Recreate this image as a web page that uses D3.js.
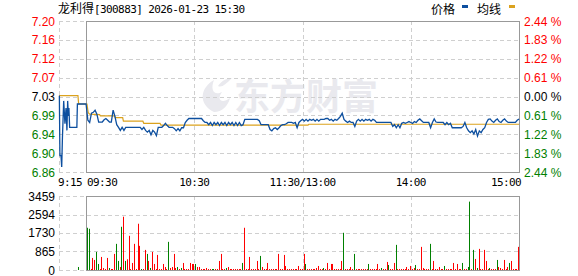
<!DOCTYPE html>
<html>
<head>
<meta charset="utf-8">
<script src="https://cdn.jsdelivr.net/npm/d3@7/dist/d3.min.js"></script>
<style>
  body { margin: 0; background: #fff; }
  svg { display: block; }
  text { font-family: "Liberation Sans", Arial, sans-serif; font-size: 12px; }
  .mono { font-family: "DejaVu Sans Mono", monospace; font-size: 11px; letter-spacing: -0.6px; }
  .cjk { font-family: "Noto Sans CJK SC", sans-serif; font-size: 12px; }
</style>
</head>
<body>
<script>
var stockName = '龙利得'
var stockInfo = '[300883] 2026-01-23 15:30'
var legendNames = ['价格', '均线']
var watermark = '东方财富'

var prevClose = 7.03
var pctTicks = [2.44, 1.83, 1.22, 0.61, 0, -0.61, -1.22, -1.83, -2.44]
var priceLabels = ['7.20', '7.16', '7.12', '7.07', '7.03', '6.99', '6.94', '6.90', '6.86']
var pctLabels = ['2.44 %', '1.83 %', '1.22 %', '0.61 %', '0.00 %', '0.61 %', '1.22 %', '1.83 %', '2.44 %']

// minutes after 9:15 (9:15-11:30 then 13:00-15:00, lunch removed)
var timeTicks = [0, 15, 75, 135, 195, 255]
var timeLabels = ['9:15', '09:30', '10:30', '11:30/13:00', '14:00', '15:00']

// call auction 9:15-9:25, [minute after 9:15, price]
var preAuction = [[0.2, 7.032], [0.5, 6.896], [1.1, 6.896], [1.5, 6.870], [1.9, 6.936], [2.6, 7.020],
  [3.3, 6.968], [3.9, 7.004], [4.4, 6.953], [4.8, 7.020], [5.2, 6.986], [5.5, 7.004], [5.9, 6.960],
  [9.9, 6.960], [10.2, 7.013]]

// one close per minute from 9:30
var price = [
  7.013, 6.976, 6.971, 6.992, 6.994, 6.999, 6.990, 6.972, 6.972, 6.972,
  6.977, 6.980, 6.976, 6.972, 6.972, 6.999, 6.985, 6.966, 6.960, 6.953,
  6.960, 6.953, 6.960, 6.960, 6.960, 6.960, 6.960, 6.960, 6.960, 6.960,
  6.960, 6.955, 6.960, 6.953, 6.949, 6.953, 6.943, 6.953, 6.949, 6.941,
  6.960, 6.960, 6.960, 6.964, 6.969, 6.964, 6.960, 6.960, 6.960, 6.957,
  6.952, 6.957, 6.952, 6.959, 6.959, 6.971, 6.976, 6.980, 6.980, 6.980,
  6.980, 6.980, 6.980, 6.980, 6.980, 6.975, 6.971, 6.971, 6.966, 6.971,
  6.964, 6.971, 6.966, 6.971, 6.964, 6.971, 6.966, 6.971, 6.964, 6.971,
  6.966, 6.971, 6.964, 6.971, 6.964, 6.971, 6.964, 6.966, 6.978, 6.978,
  6.978, 6.978, 6.978, 6.978, 6.978, 6.978, 6.975, 6.966, 6.966, 6.966,
  6.966, 6.966, 6.955, 6.952, 6.957, 6.959, 6.955, 6.959, 6.964, 6.966,
  6.966, 6.968, 6.971, 6.971, 6.971, 6.969, 6.971, 6.959, 6.971, 6.975,
  6.978, 6.974, 6.978, 6.974, 6.978, 6.976, 6.978, 6.974, 6.978, 6.974,
  6.978, 6.978, 6.978, 6.980, 6.980, 6.976, 6.978, 6.974, 6.978, 6.976,
  6.980, 6.985, 6.992, 6.978, 6.974, 6.971, 6.974, 6.971, 6.971, 6.962,
  6.974, 6.978, 6.974, 6.978, 6.974, 6.978, 6.976, 6.978, 6.974, 6.978,
  6.976, 6.971, 6.971, 6.971, 6.971, 6.971, 6.971, 6.971, 6.971, 6.971,
  6.962, 6.966, 6.959, 6.966, 6.959, 6.969, 6.971, 6.969, 6.971, 6.973,
  6.971, 6.969, 6.973, 6.971, 6.976, 6.979, 6.975, 6.971, 6.971, 6.971,
  6.971, 6.959, 6.971, 6.979, 6.972, 6.971, 6.971, 6.971, 6.971, 6.966,
  6.971, 6.966, 6.969, 6.959, 6.959, 6.959, 6.959, 6.959, 6.959, 6.962,
  6.971, 6.959, 6.952, 6.948, 6.952, 6.945, 6.955, 6.940, 6.952, 6.948,
  6.955, 6.959, 6.971, 6.978, 6.979, 6.974, 6.971, 6.976, 6.979, 6.973,
  6.971, 6.976, 6.979, 6.974, 6.971, 6.971, 6.971, 6.971, 6.971, 6.976,
  6.979
]

// average price, [minute after 9:15, price] breakpoints
var avgLine = [[0, 7.032], [10.5, 7.032], [10.9, 7.013], [15.5, 7.013], [16.2, 6.993], [17, 6.990],
  [22.5, 6.989], [23, 6.986], [30.8, 6.986], [31.2, 6.982], [35.3, 6.982], [35.7, 6.974],
  [46.5, 6.974], [47, 6.969], [56, 6.969], [56.5, 6.965], [138, 6.965], [138.5, 6.967], [255, 6.967]]

// volume per minute from 9:30, negative = down minute (green)
var preVolume = [[10, -141]]
var volume = [
  -1974, -1927, 50, 564, 470, -846, -282, 47, 611, 94,
  47, 564, -94, 47, 47, 752, -1222, -423, 141, -2021,
  2491, -423, 500, 1598, 47, 329, 1222, 47, 2162, 1128,
  -47, 47, 940, -752, 423, -94, 846, 282, 47, 705,
  47, 47, 282, 141, 47, -1316, 94, 141, 752, 94,
  -141, 47, -94, 329, 47, 47, 47, 329, 282, 282,
  -282, 141, 141, 47, 47, 47, 94, 47, 47, -47,
  -47, 47, 47, 423, 752, 47, 47, -94, 141, 47,
  47, 47, 47, 47, 47, 47, -329, 1974, 47, 47,
  611, 47, 47, 47, 423, 47, -658, 141, 47, 47,
  329, 47, 47, 47, 47, 47, 752, 47, 47, 705,
  188, 47, 47, 47, 47, 47, 47, 188, 47, 47,
  752, -282, 47, 47, 47, 47, 47, 94, 188, 47,
  47, -94, 47, 329, 47, 282, 282, 47, 47, 47,
  47, 423, -1739, 47, 47, 47, 141, 47, -752, 47,
  47, 47, 47, 47, 47, 47, -282, 47, 47, 47,
  47, 282, 47, -94, 47, 47, 376, -235, 47, 47,
  329, -1175, 47, 47, 47, 47, 47, 141, 47, 188,
  47, 94, -235, 47, 47, 1081, 94, 47, 47, 47,
  -1222, 47, 423, 47, 47, 141, 47, 47, -188, 47,
  47, 47, 47, 329, 47, 282, 47, 47, -329, 47,
  47, -141, -3196, 47, -940, 517, -94, 987, 47, 47,
  940, 423, 47, -94, 47, 47, 47, -470, 141, 94,
  47, 470, 47, 141, -329, 423, 47, 47, 47, 1081
]
var volTicks = [0, 865, 1730, 2594, 3459]
var volLabels = ['0', '865', '1730', '2594', '3459']
var volMax = 3459

var red = '#ff0000', green = '#008000', blue = '#0d4f9f', gold = '#dba21e'
var gridColor = '#cfcfcf', frameColor = '#999'

var svg = d3.select('body').append('svg').attr('width', 578).attr('height', 276)

var x = d3.scaleLinear().domain([0, 255]).range([59, 519])
var yP = d3.scaleLinear().domain([prevClose * (1 - 0.0244), prevClose * (1 + 0.0244)]).range([172, 21])
var yV = d3.scaleLinear().domain([0, volMax]).range([270, 196])

function crisp(v){ return Math.round(v) + 0.5 }
function pctColor(p){ return p > 0 ? red : p < 0 ? green : '#000' }
function pctPrice(p){ return prevClose * (1 + p / 100) }

// watermark
var wm = svg.append('g').style('fill', '#e9e9ee')
wm.append('path')
  .attr('d', 'M214,112 C198,104 200,88 214,80 C210,90 214,96 222,92 C216,100 222,104 230,98 C228,106 222,112 214,112 Z M218,86 C222,80 228,78 232,78 C226,84 222,88 218,86 Z')
wm.append('text').attr('x', 234).attr('y', 110)
  .style('font-family', '"Noto Sans CJK SC", sans-serif')
  .style('font-size', '36px').style('font-weight', 'bold')
  .text(watermark)

function panel(y0, y1, hTicks){
  var g = svg.append('g')
  g.selectAll('line.h').data(hTicks).enter().append('line')
    .attr('x1', x(0)).attr('x2', x(255))
    .attr('y1', function(d){ return crisp(d) }).attr('y2', function(d){ return crisp(d) })
    .style('stroke', gridColor).style('stroke-dasharray', '4,3')
  g.selectAll('line.v').data([0, 75, 135, 195]).enter().append('line')
    .attr('x1', function(d){ return crisp(x(d)) }).attr('x2', function(d){ return crisp(x(d)) })
    .attr('y1', y0).attr('y2', y1)
    .style('stroke', gridColor).style('stroke-dasharray', '4,3')
  g.append('rect')
    .attr('x', crisp(x(15))).attr('y', crisp(y0))
    .attr('width', Math.round(x(255)) - Math.round(x(15))).attr('height', Math.round(y1) - Math.round(y0))
    .style('fill', 'none').style('stroke', frameColor)
  return g
}

// price panel
var pg = panel(yP.range()[1], yP.range()[0], pctTicks.map(function(p){ return yP(pctPrice(p)) }))

svg.selectAll('text.lp').data(pctTicks).enter().append('text')
  .attr('x', 55).attr('y', function(d){ return yP(pctPrice(d)) + 4.5 })
  .attr('text-anchor', 'end')
  .style('fill', pctColor)
  .text(function(d, i){ return priceLabels[i] })

svg.selectAll('text.rp').data(pctTicks).enter().append('text')
  .attr('x', 524).attr('y', function(d){ return yP(pctPrice(d)) + 4.5 })
  .style('fill', pctColor)
  .text(function(d, i){ return pctLabels[i] })

var anchors = ['start', 'start', 'middle', 'middle', 'middle', 'end']
svg.selectAll('text.t').data(timeTicks).enter().append('text')
  .attr('class', 'mono')
  .attr('x', function(d, i){ return x(d) + (i == 0 ? -1 : i == 1 ? 1 : i == 5 ? 2 : 0) })
  .attr('y', 186)
  .attr('text-anchor', function(d, i){ return anchors[i] })
  .text(function(d, i){ return timeLabels[i] })

var pricePts = preAuction.concat(price.map(function(p, m){ return [15 + m, p] }))
var line = d3.line().x(function(d){ return x(d[0]) }).y(function(d){ return yP(d[1]) })

pg.append('path').attr('d', line(avgLine))
  .style('fill', 'none').style('stroke', gold).style('stroke-width', 1.2)
pg.append('path').attr('d', line(pricePts))
  .style('fill', 'none').style('stroke', blue).style('stroke-width', 1.3)

// volume panel
var vg = panel(yV.range()[1], yV.range()[0], volTicks.map(function(v){ return yV(v) }))

svg.selectAll('text.v').data(volTicks).enter().append('text')
  .attr('x', 55).attr('y', function(d){ return yV(d) + 4.5 })
  .attr('text-anchor', 'end')
  .style('fill', '#000')
  .text(function(d, i){ return volLabels[i] })

var bars = preVolume.concat(volume.map(function(v, m){ return [15 + m, v] }))
vg.selectAll('rect.bar').data(bars).enter().append('rect')
  .attr('x', function(d){ return Math.round(x(d[0])) + 1 })
  .attr('width', 1)
  .attr('y', function(d){ return Math.min(yV(Math.abs(d[1])), 269) })
  .attr('height', function(d){ return Math.max(270 - yV(Math.abs(d[1])), 1) })
  .style('fill', function(d){ return d[1] < 0 ? green : red })

// title and legend
var title = svg.append('text').attr('x', 58).attr('y', 13)
title.append('tspan').attr('class', 'cjk').text(stockName)
title.append('tspan').attr('class', 'mono').text(stockInfo)

var leg = svg.append('g')
leg.append('text').attr('class', 'cjk').attr('x', 431).attr('y', 14).text(legendNames[0])
leg.append('rect').attr('x', 462).attr('y', 5).attr('width', 6).attr('height', 3).style('fill', blue)
leg.append('text').attr('class', 'cjk').attr('x', 477).attr('y', 14).text(legendNames[1])
leg.append('rect').attr('x', 509).attr('y', 5).attr('width', 6).attr('height', 3).style('fill', gold)
</script>
</body>
</html>
